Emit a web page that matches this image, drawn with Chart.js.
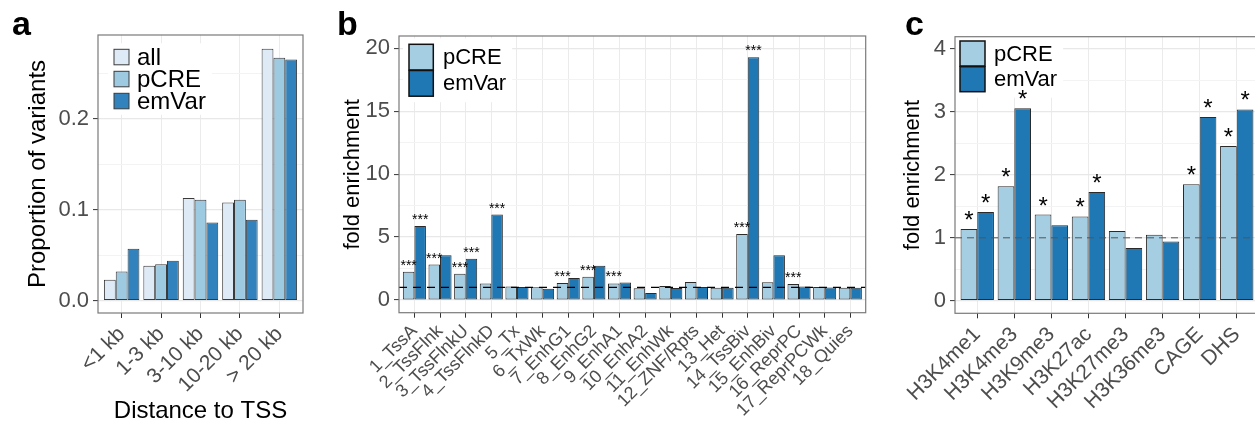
<!DOCTYPE html>
<html>
<head>
<meta charset="utf-8">
<title>Variant enrichment by distance, chromatin state and mark</title>
<script src="https://cdn.jsdelivr.net/npm/chart.js@4.4.1/dist/chart.umd.min.js"></script>
<style>
  html, body { margin: 0; padding: 0; background: #ffffff; overflow: hidden; width: 1255px; height: 423px; }
  .panel { position: absolute; top: 0; }
  canvas { display: block; }
</style>
</head>
<body>
<div class="panel" style="left:0px"><canvas id="panelA" width="320" height="440"></canvas></div>
<div class="panel" style="left:320px"><canvas id="panelB" width="560" height="440"></canvas></div>
<div class="panel" style="left:880px"><canvas id="panelC" width="390" height="440"></canvas></div>
<script>
// ---- a: proportion of variants by distance to the nearest TSS ----
const tssBins = ['<1 kb', '1-3 kb', '3-10 kb', '10-20 kb', '> 20 kb'];
const propAll = [0.023, 0.0385, 0.113, 0.108, 0.277];
const propPCRE = [0.032, 0.040, 0.111, 0.111, 0.267];
const propEmVar = [0.057, 0.044, 0.086, 0.089, 0.265];
const propTicks = [0.0, 0.1, 0.2];
const propMinorTicks = [0.05, 0.15, 0.25];

// ---- b: fold enrichment across the 18 chromatin states ----
const chromStates = ['1_TssA', '2_TssFlnk', '3_TssFlnkU', '4_TssFlnkD', '5_Tx', '6_TxWk',
  '7_EnhG1', '8_EnhG2', '9_EnhA1', '10_EnhA2', '11_EnhWk', '12_ZNF/Rpts', '13_Het',
  '14_TssBiv', '15_EnhBiv', '16_ReprPC', '17_ReprPCWk', '18_Quies'];
const stateFoldPCRE = [2.24, 2.82, 2.09, 1.32, 1.08, 1.02, 1.35, 1.84, 1.32, 0.93, 1.12, 1.43, 0.97, 5.24, 1.42, 1.27, 1.03, 0.97];
const stateFoldEmVar = [5.89, 3.56, 3.27, 6.79, 1.03, 0.90, 1.75, 2.73, 1.40, 0.55, 0.95, 1.03, 0.97, 19.3, 3.56, 1.08, 0.99, 0.97];
const stateSigPCRE = [1, 1, 1, 0, 0, 0, 1, 1, 1, 0, 0, 0, 0, 1, 0, 1, 0, 0];
const stateSigEmVar = [1, 0, 1, 1, 0, 0, 0, 0, 0, 0, 0, 0, 0, 1, 0, 0, 0, 0];
const stateTicks = [0, 5, 10, 15, 20];
const stateMinorTicks = [2.5, 7.5, 12.5, 17.5];

// ---- c: fold enrichment for histone marks, CAGE and DHS ----
const marks = ['H3K4me1', 'H3K4me3', 'H3K9me3', 'H3K27ac', 'H3K27me3', 'H3K36me3', 'CAGE', 'DHS'];
const markFoldPCRE = [1.14, 1.82, 1.37, 1.34, 1.11, 1.05, 1.85, 2.46];
const markFoldEmVar = [1.41, 3.06, 1.20, 1.73, 0.84, 0.94, 2.92, 3.04];
const markSigPCRE = [1, 1, 1, 1, 0, 0, 1, 1];
const markSigEmVar = [1, 1, 0, 1, 0, 0, 1, 1];
const markTicks = [0, 1, 2, 3, 4];
const markMinorTicks = [0.5, 1.5, 2.5, 3.5];

const FONT = "'Liberation Sans', Arial, Helvetica, sans-serif";
const TICK_GREY = '#4d4d4d';
Chart.defaults.font.family = FONT;
Chart.defaults.animation = false;

// Reference line, legend, significance marks, frame and panel tag
const panelDecor = {
  id: 'panelDecor',
  afterDatasetsDraw(chart, args, o) {
    const { ctx, chartArea: ca } = chart;
    const ys = chart.scales.y;
    ctx.save();
    // dashed reference line
    if (o.refLine != null) {
      const y = ys.getPixelForValue(o.refLine);
      ctx.strokeStyle = o.refColor;
      ctx.lineWidth = o.refWidth;
      ctx.setLineDash(o.refDash);
      ctx.beginPath();
      ctx.moveTo(ca.left, y);
      ctx.lineTo(ca.right, y);
      ctx.stroke();
      ctx.setLineDash([]);
    }
    // legend
    const lg = o.legend;
    const sets = chart.data.datasets;
    const kx = ca.left + lg.dx, ky = ca.top + lg.dy;
    ctx.font = lg.font;
    let tw = 0;
    sets.forEach(s => { tw = Math.max(tw, ctx.measureText(s.label).width); });
    ctx.fillStyle = '#ffffff';
    const bgL = Math.max(ca.left + 0.5, kx - 6);
    ctx.fillRect(bgL, ky - 6, kx + lg.textGap + tw + 6 - bgL, lg.pitch * (sets.length - 1) + lg.h + 12);
    sets.forEach((s, i) => {
      const y = ky + i * lg.pitch;
      ctx.fillStyle = s.backgroundColor;
      ctx.fillRect(kx, y, lg.w, lg.h);
      ctx.strokeStyle = lg.border;
      ctx.lineWidth = lg.borderWidth;
      ctx.strokeRect(kx, y, lg.w, lg.h);
      ctx.fillStyle = '#000000';
      ctx.textAlign = 'left';
      ctx.textBaseline = 'alphabetic';
      ctx.fillText(s.label, kx + lg.textGap, y + lg.h / 2 + lg.baseShift);
    });
    // significance marks above bars
    if (o.sig) {
      ctx.fillStyle = '#000000';
      ctx.font = o.starFont;
      ctx.textAlign = 'center';
      ctx.textBaseline = 'alphabetic';
      o.sig.forEach((flags, di) => {
        const meta = chart.getDatasetMeta(di);
        flags.forEach((f, i) => {
          if (!f) return;
          const bar = meta.data[i];
          ctx.fillText(o.starText, bar.x, bar.y - o.starGap);
        });
      });
    }
    // panel frame
    ctx.strokeStyle = o.frameColor;
    ctx.lineWidth = 1.2;
    ctx.strokeRect(ca.left, ca.top, ca.right - ca.left, ca.bottom - ca.top);
    // panel tag
    ctx.fillStyle = '#000000';
    ctx.font = 'bold 34px ' + FONT;
    ctx.textAlign = 'left';
    ctx.textBaseline = 'alphabetic';
    ctx.fillText(o.tag, o.tagX, 35);
    ctx.restore();
  }
};

function buildPanel(canvasId, spec) {
  const major = new Set(spec.yTicks);
  const allY = spec.yTicks.concat(spec.yMinor).sort((a, b) => a - b);
  const n = spec.categories.length;
  return new Chart(document.getElementById(canvasId), {
    type: 'bar',
    data: {
      datasets: spec.series.map(s => ({
        label: s.label,
        data: s.values.map((v, i) => ({ x: i, y: v })),
        backgroundColor: s.color,
        borderColor: spec.barBorder,
        borderWidth: 1,
        borderSkipped: false,
        categoryPercentage: 0.9,
        barPercentage: 1.0
      }))
    },
    options: {
      responsive: false,
      animation: false,
      events: [],
      layout: { padding: spec.padding },
      plugins: {
        legend: { display: false },
        tooltip: { enabled: false },
        panelDecor: spec.decor
      },
      scales: {
        x: {
          type: 'linear',
          offset: false,
          min: -0.6,
          max: n - 0.4,
          afterBuildTicks: sc => { sc.ticks = spec.categories.map((_, i) => ({ value: i })); },
          afterFit: sc => { sc.height = spec.xAxisHeight; },
          ticks: {
            autoSkip: false,
            minRotation: 45,
            maxRotation: 45,
            padding: spec.xTickPadding,
            color: TICK_GREY,
            font: { size: spec.xTickSize },
            callback: (v, i) => spec.categories[i]
          },
          grid: { offset: false, color: '#ebebeb', lineWidth: 1, tickLength: 5, tickColor: '#333333', tickWidth: 1 },
          border: { display: false },
          title: spec.xTitle ? {
            display: true, text: spec.xTitle, color: '#000000',
            font: { size: spec.titleSize }, padding: { top: 0, bottom: spec.xTitlePad }
          } : { display: false }
        },
        y: {
          type: 'linear',
          min: spec.yMin,
          max: spec.yMax,
          afterBuildTicks: sc => { sc.ticks = allY.map(v => ({ value: v })); },
          afterFit: sc => { sc.width = spec.yAxisWidth; },
          ticks: {
            padding: 4,
            color: TICK_GREY,
            font: { size: spec.yTickSize },
            callback: v => major.has(v) ? v.toFixed(spec.yDigits) : ''
          },
          grid: {
            color: c => major.has(c.tick.value) ? '#e8e8e8' : '#f3f3f3',
            lineWidth: c => major.has(c.tick.value) ? 1.2 : 1,
            tickLength: 5,
            tickColor: c => major.has(c.tick.value) ? '#333333' : 'rgba(0,0,0,0)',
            tickWidth: 1
          },
          border: { display: false },
          title: {
            display: true, text: spec.yTitle, color: '#000000',
            font: { size: spec.titleSize }, padding: { top: spec.yTitlePad, bottom: 0 }
          }
        }
      }
    },
    plugins: [panelDecor]
  });
}

buildPanel('panelA', {
  categories: tssBins,
  series: [
    { label: 'all', values: propAll, color: '#deebf7' },
    { label: 'pCRE', values: propPCRE, color: '#9ecae1' },
    { label: 'emVar', values: propEmVar, color: '#3182bd' }
  ],
  barBorder: '#3a3a3a',
  padding: { left: 0, top: 35, right: 17, bottom: 0 },
  yAxisWidth: 98, xAxisHeight: 127,
  yMin: -0.0135, yMax: 0.292, yTicks: propTicks, yMinor: propMinorTicks, yDigits: 1,
  yTickSize: 22, xTickSize: 21, xTickPadding: 4, titleSize: 24,
  yTitle: 'Proportion of variants', yTitlePad: 23.6,
  xTitle: 'Distance to TSS', xTitlePad: 14,
  decor: {
    refLine: null, sig: null, frameColor: '#7a7a7a', tag: 'a', tagX: 12,
    legend: { dx: 16, dy: 14.3, w: 15, h: 15.5, pitch: 22, textGap: 23, font: '24px ' + FONT,
      border: '#3a3a3a', borderWidth: 1, baseShift: 7.5 }
  }
});

buildPanel('panelB', {
  categories: chromStates,
  series: [
    { label: 'pCRE', values: stateFoldPCRE, color: '#a6cee3' },
    { label: 'emVar', values: stateFoldEmVar, color: '#1f78b4' }
  ],
  barBorder: '#2a2a2a',
  padding: { left: 0, top: 36, right: 14.3, bottom: 0 },
  yAxisWidth: 79, xAxisHeight: 127.3,
  yMin: -1.009, yMax: 20.98, yTicks: stateTicks, yMinor: stateMinorTicks, yDigits: 0,
  yTickSize: 22, xTickSize: 18, xTickPadding: 3, titleSize: 22,
  yTitle: 'fold enrichment', yTitlePad: 19.8,
  xTitle: null,
  decor: {
    refLine: 1, refColor: '#000000', refWidth: 1.1, refDash: [8, 6],
    sig: [stateSigPCRE, stateSigEmVar], starText: '***', starFont: '14px ' + FONT, starGap: 2,
    frameColor: '#7a7a7a', tag: 'b', tagX: 17,
    legend: { dx: 10, dy: 8.3, w: 24.3, h: 25.7, pitch: 26.2, textGap: 34, font: '22px ' + FONT,
      border: '#111111', borderWidth: 1.5, baseShift: 7 }
  }
});

buildPanel('panelC', {
  categories: marks,
  series: [
    { label: 'pCRE', values: markFoldPCRE, color: '#a6cee3' },
    { label: 'emVar', values: markFoldEmVar, color: '#1f78b4' }
  ],
  barBorder: '#2a2a2a',
  padding: { left: 0, top: 36.7, right: 11, bottom: 0 },
  yAxisWidth: 75, xAxisHeight: 126.7,
  yMin: -0.2, yMax: 4.197, yTicks: markTicks, yMinor: markMinorTicks, yDigits: 0,
  yTickSize: 22, xTickSize: 21, xTickPadding: 4, titleSize: 22,
  yTitle: 'fold enrichment', yTitlePad: 19.3,
  xTitle: null,
  decor: {
    refLine: 1, refColor: '#555555', refWidth: 1, refDash: [7, 5],
    sig: [markSigPCRE, markSigEmVar], starText: '*', starFont: '24px ' + FONT, starGap: 1,
    frameColor: '#7a7a7a', tag: 'c', tagX: 25,
    legend: { dx: 5, dy: 4.3, w: 25, h: 25, pitch: 25.7, textGap: 34, font: '22px ' + FONT,
      border: '#111111', borderWidth: 1.5, baseShift: 7 }
  }
});
</script>
</body>
</html>
